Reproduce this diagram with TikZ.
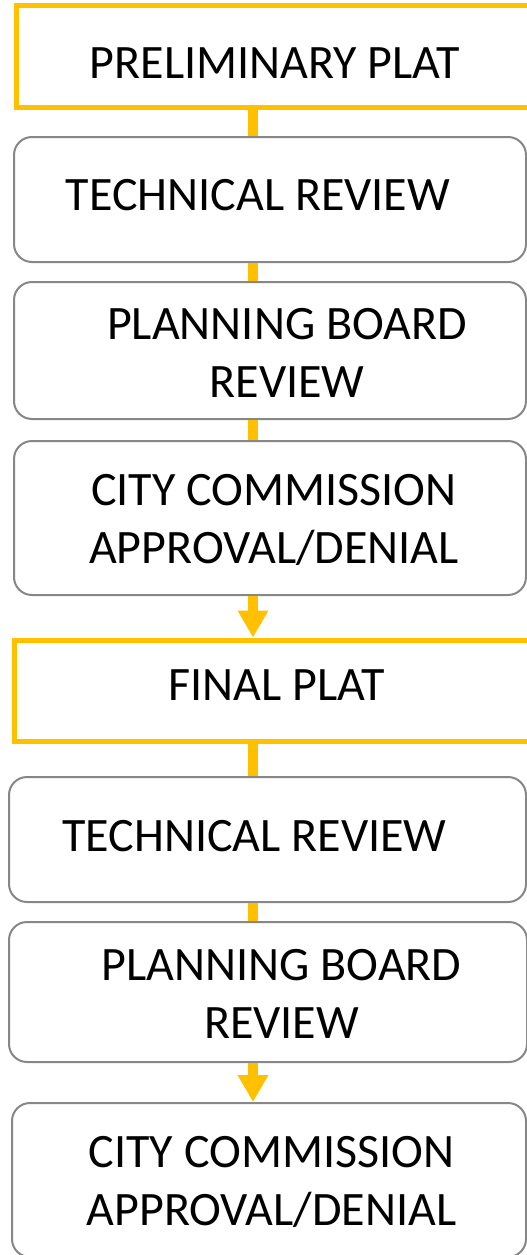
\documentclass[tikz,border=0pt]{standalone}
\usepackage{fontspec}
\setmainfont{Carlito}
\usetikzlibrary{arrows.meta}
\definecolor{platyellow}{HTML}{FFC000}
\definecolor{boxgray}{HTML}{878787}

\begin{document}
\begin{tikzpicture}[x=1pt, y=-1pt,
    plat/.style={draw=platyellow, line width=5pt, fill=white, inner sep=0pt},
    stage/.style={draw=boxgray, line width=2pt, rounded corners=18pt, fill=white, inner sep=0pt},
    lbl/.style={anchor=base, align=center, inner sep=0pt, font=\fontsize{48}{58}\selectfont},
    link/.style={draw=platyellow, line width=10pt},
    flow/.style={link, -{Triangle[width=29pt,length=27pt]}}]
    \useasboundingbox (0,0) rectangle (527,1255);
    \coordinate (spine) at (253,0);

    % preliminary plat
    \node[plat, minimum width=515.5pt, minimum height=101.5pt] (pp) at (274.25,56.25) {};
    \node[lbl] (ppT) at (275,78.5) {PRELIMINARY PLAT};
    \node[stage, minimum width=512pt, minimum height=125pt] (tr1) at (270,199.5) {};
    \node[lbl] (tr1T) at (258,210) {TECHNICAL REVIEW};
    \node[stage, minimum width=512pt, minimum height=137pt] (pb1) at (270,350.5) {};
    \node[lbl] (pb1T) at (287,397) {PLANNING BOARD\\REVIEW};
    \node[stage, minimum width=512pt, minimum height=154pt] (cc1) at (270,518) {};
    \node[lbl] (cc1T) at (274,563) {CITY COMMISSION\\APPROVAL/DENIAL};

    % final plat
    \node[plat, minimum width=517.5pt, minimum height=101.5pt] (fp) at (273.25,690.75) {};
    \node[lbl] (fpT) at (277,700) {FINAL PLAT};
    \node[stage, minimum width=517pt, minimum height=125pt] (tr2) at (267.5,839.5) {};
    \node[lbl] (tr2T) at (254.5,851) {TECHNICAL REVIEW};
    \node[stage, minimum width=518pt, minimum height=140pt] (pb2) at (268,992) {};
    \node[lbl] (pb2T) at (281.5,1038) {PLANNING BOARD\\REVIEW};
    \node[stage, minimum width=514pt, minimum height=154pt] (cc2) at (269,1180) {};
    \node[lbl] (cc2T) at (271.5,1225) {CITY COMMISSION\\APPROVAL/DENIAL};

    \draw[link] (pp.south -| spine) -- (tr1.north -| spine);
    \draw[link] (tr1.south -| spine) -- (pb1.north -| spine);
    \draw[link] (pb1.south -| spine) -- (cc1.north -| spine);
    \draw[flow] (cc1.south -| spine) -- (fp.north -| spine);
    \draw[link] (fp.south -| spine) -- (tr2.north -| spine);
    \draw[link] (tr2.south -| spine) -- (pb2.north -| spine);
    \draw[flow] (pb2.south -| spine) -- (cc2.north -| spine);
\end{tikzpicture}
\end{document}
